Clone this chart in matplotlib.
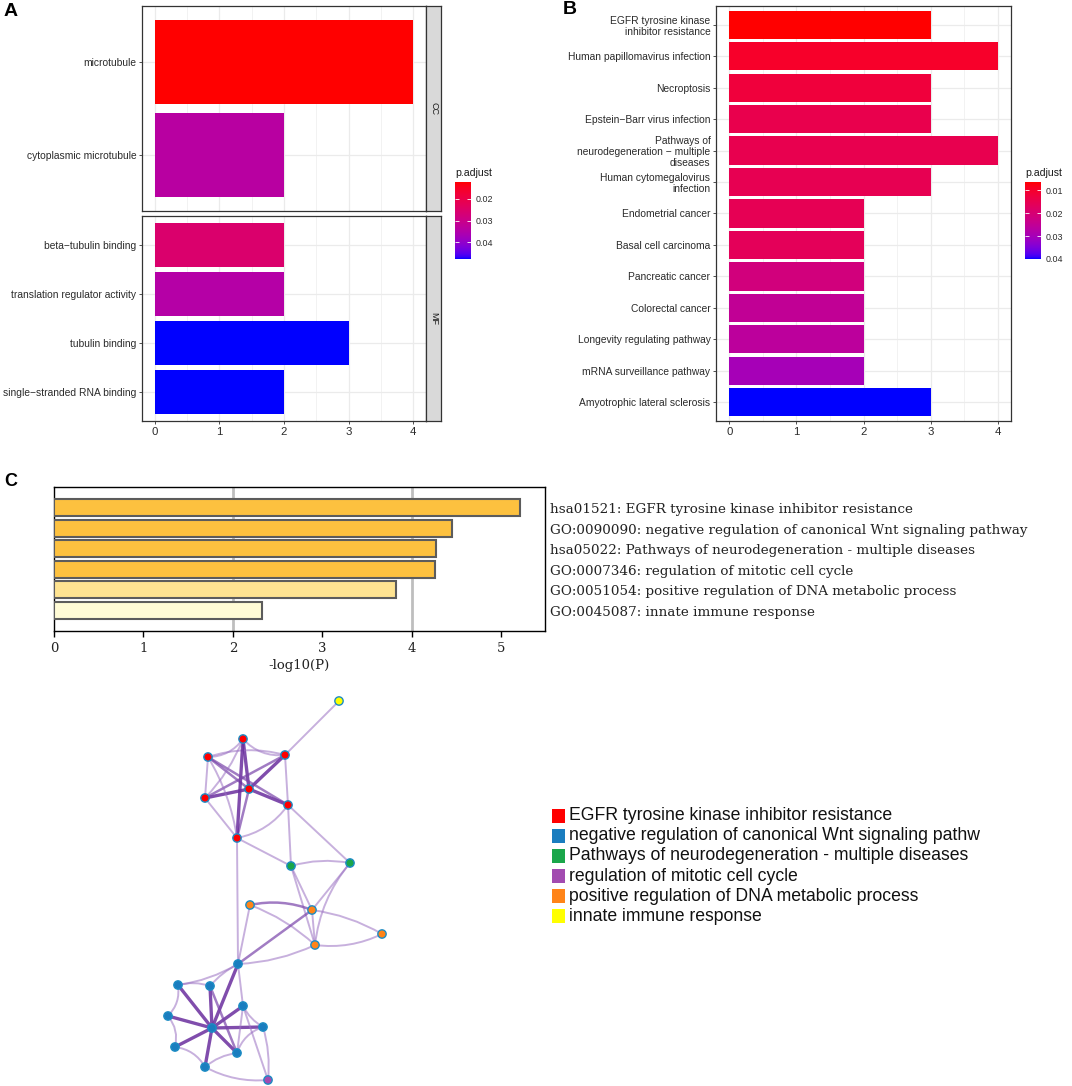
import numpy as np
import matplotlib
matplotlib.use("Agg")
import matplotlib.pyplot as plt
from matplotlib.colors import ListedColormap, Normalize
from matplotlib.cm import ScalarMappable
from matplotlib.patches import FancyArrowPatch, Rectangle

plt.rcParams['font.family'] = ['Liberation Sans', 'DejaVu Sans']

# ---------------- data ----------------
# Panel A (GO enrichment, faceted CC / MF), top-to-bottom order
a_cc_terms = ["microtubule", "cytoplasmic microtubule"]
a_cc_count = [4, 2]
a_cc_padj = [0.0122, 0.0338]
a_mf_terms = ["beta\u2212tubulin binding", "translation regulator activity",
              "tubulin binding", "single\u2212stranded RNA binding"]
a_mf_count = [2, 2, 3, 2]
a_mf_padj = [0.0255, 0.0345, 0.0478, 0.0478]
a_ticks = [0.02, 0.03, 0.04]

# Panel B (KEGG enrichment), top-to-bottom order
b_terms = ["EGFR tyrosine kinase\ninhibitor resistance",
           "Human papillomavirus infection",
           "Necroptosis",
           "Epstein\u2212Barr virus infection",
           "Pathways of\nneurodegeneration \u2212 multiple\ndiseases",
           "Human cytomegalovirus\ninfection",
           "Endometrial cancer",
           "Basal cell carcinoma",
           "Pancreatic cancer",
           "Colorectal cancer",
           "Longevity regulating pathway",
           "mRNA surveillance pathway",
           "Amyotrophic lateral sclerosis"]
b_count = [3, 4, 3, 3, 4, 3, 2, 2, 2, 2, 2, 2, 3]
b_padj = [0.0065, 0.0098, 0.0122, 0.0146, 0.0148, 0.0152, 0.0156, 0.0163,
          0.0215, 0.0250, 0.0260, 0.0300, 0.0400]
b_ticks = [0.01, 0.02, 0.03, 0.04]

# Panel C (Metascape bar chart)
c_terms = ["hsa01521: EGFR tyrosine kinase inhibitor resistance",
           "GO:0090090: negative regulation of canonical Wnt signaling pathway",
           "hsa05022: Pathways of neurodegeneration - multiple diseases",
           "GO:0007346: regulation of mitotic cell cycle",
           "GO:0051054: positive regulation of DNA metabolic process",
           "GO:0045087: innate immune response"]
c_logp = [5.21, 4.45, 4.27, 4.26, 3.82, 2.33]
c_colors = ["#FDC13F", "#FDC13F", "#FDC13F", "#FDC13F", "#FEE391", "#FFFBD6"]
c_xticks = [0, 1, 2, 3, 4, 5]

# Network (Metascape enrichment network): layout positions + cluster membership
net_groups = ["EGFR tyrosine kinase inhibitor resistance",
              "negative regulation of canonical Wnt signaling pathw",
              "Pathways of neurodegeneration - multiple diseases",
              "regulation of mitotic cell cycle",
              "positive regulation of DNA metabolic process",
              "innate immune response"]
net_group_colors = ["#FF0000", "#1A7DBF", "#1AA64A", "#A24BB0", "#FF8418", "#FFFF00"]
node_x = [339, 243, 208, 285, 249, 205, 288, 237, 291, 350, 250, 312, 315, 382,
          238, 178, 210, 243, 168, 263, 212, 175, 237, 205, 268]
node_y = [701, 739, 757, 755, 789, 798, 805, 838, 866, 863, 905, 910, 945, 934,
          964, 985, 986, 1006, 1016, 1027, 1028, 1047, 1053, 1067, 1080]
node_group = [5, 0, 0, 0, 0, 0, 0, 0, 2, 2, 4, 4, 4, 4,
              1, 1, 1, 1, 1, 1, 1, 1, 1, 1, 3]
edge_src = [0, 4, 4, 4, 4, 4, 4, 1, 1, 2, 2, 5, 7, 3, 1, 2, 5, 1, 2,
            6, 6, 7, 7,
            8, 8, 8, 9, 9, 10, 10, 10, 11, 12, 11, 11, 12,
            20, 20, 20, 20, 20, 20, 20, 20, 20,
            15, 15, 18, 21, 23, 22, 19, 17, 14, 14, 17, 19, 23, 17, 16]
edge_dst = [3, 1, 2, 3, 5, 6, 7, 2, 3, 5, 3, 7, 6, 6, 7, 6, 3, 5, 7,
            9, 8, 8, 14,
            9, 11, 12, 11, 12, 11, 14, 12, 12, 13, 13, 14, 14,
            14, 15, 16, 17, 18, 19, 21, 22, 23,
            16, 18, 21, 23, 22, 19, 17, 14, 16, 15, 24, 24, 24, 22, 22]
edge_w = [1, 3, 2, 3, 3, 3, 2, 1, 1, 1, 1, 1, 1, 1, 3, 2, 2, 1, 1,
          1, 1, 1, 1,
          1, 1, 1, 1, 1, 2, 1, 1, 1, 1, 1, 2, 1,
          3, 3, 3, 3, 3, 3, 3, 3, 3,
          1, 1, 1, 1, 1, 1, 1, 1, 1, 1, 1, 1, 1, 1, 2]
edge_rad = [0, 0, 0, 0, 0, 0, 0, -0.25, 0.25, 0, -0.15, 0, 0.2, 0, 0, 0, 0, -0.1, -0.1,
            0, 0, 0, 0,
            -0.12, 0, 0, 0, 0.15, -0.15, 0, -0.1, 0, 0.15, -0.1, 0, -0.1,
            0, 0, 0, 0, 0, 0, 0, 0, 0,
            -0.15, -0.25, -0.25, -0.25, -0.15, -0.25, -0.15, 0, 0.1, -0.1, 0, -0.1, 0.15, 0, 0]

# ---------------- helpers ----------------
W, H = 1072, 1086
fig = plt.figure(figsize=(W / 100, H / 100), dpi=100)


def px_axes(x0, y0, x1, y1, **kw):
    return fig.add_axes([x0 / W, 1 - y1 / H, (x1 - x0) / W, (y1 - y0) / H], **kw)


def ftext(x, y, s, **kw):
    return fig.text(x / W, 1 - y / H, s, **kw)


_M = np.array([[0.4124, 0.3576, 0.1805], [0.2126, 0.7152, 0.0722], [0.0193, 0.1192, 0.9505]])
_WP = np.array([0.95047, 1.0, 1.08883])


def _to_lab(rgb):
    c = np.asarray(rgb, float)
    lin = np.where(c <= 0.04045, c / 12.92, ((c + 0.055) / 1.055) ** 2.4)
    xyz = _M @ lin / _WP
    d = 6 / 29
    f = np.where(xyz > d ** 3, np.cbrt(xyz), xyz / (3 * d * d) + 4 / 29)
    return np.array([116 * f[1] - 16, 500 * (f[0] - f[1]), 200 * (f[1] - f[2])])


def _from_lab(lab):
    L, a, b = lab
    fy = (L + 16) / 116
    fs = np.array([fy + a / 500, fy, fy - b / 200])
    d = 6 / 29
    xyz = np.where(fs > d, fs ** 3, 3 * d * d * (fs - 4 / 29)) * _WP
    lin = np.clip(np.linalg.inv(_M) @ xyz, 0, 1)
    s = np.where(lin <= 0.0031308, 12.92 * lin, 1.055 * lin ** (1 / 2.4) - 0.055)
    return np.clip(s, 0, 1)


def lab_cmap(c0, c1, n=256):
    l0, l1 = _to_lab(c0), _to_lab(c1)
    return ListedColormap([_from_lab(l0 + (l1 - l0) * t) for t in np.linspace(0, 1, n)])


cmap = lab_cmap((1, 0, 0), (0, 0, 1))

TXT = "#2B2B2B"
GRID = "#EBEBEB"
BORDER = "#333333"
FS = 7.35


def style_gg(ax, terms, show_x):
    n = len(terms)
    ax.set_ylim(0.4, n + 0.6)
    ax.set_xlim(-0.2, 4.2)
    ax.set_yticks(np.arange(1, n + 1))
    ax.set_yticklabels(terms[::-1], fontsize=FS, color=TXT, linespacing=1.12)
    for lab in ax.get_yticklabels():
        lab.set_multialignment('right')
    ax.set_xticks([0, 1, 2, 3, 4])
    ax.set_xticks([0.5, 1.5, 2.5, 3.5], minor=True)
    ax.grid(True, which='major', color=GRID, lw=0.9, zorder=0)
    ax.grid(True, which='minor', axis='x', color=GRID, lw=0.45, zorder=0)
    ax.set_axisbelow(True)
    ax.tick_params(axis='both', which='major', length=2.5, width=0.6, color=BORDER, pad=1.5)
    ax.tick_params(axis='x', which='minor', length=0)
    if show_x:
        ax.set_xticklabels(["0", "1", "2", "3", "4"], fontsize=8.2, color=TXT)
    else:
        ax.tick_params(axis='x', which='major', length=0, labelbottom=False)
    for sp in ax.spines.values():
        sp.set_color(BORDER)
        sp.set_linewidth(0.9)


def strip(x0, y0, x1, y1, label):
    sax = px_axes(x0, y0, x1, y1)
    sax.set_facecolor("#D9D9D9")
    sax.set_xticks([])
    sax.set_yticks([])
    for sp in sax.spines.values():
        sp.set_color(BORDER)
        sp.set_linewidth(0.9)
    sax.text(0.5, 0.5, label, rotation=-90, ha='center', va='center',
             fontsize=6.5, color="#1A1A1A", transform=sax.transAxes)


def pcolorbar(x0, y0, x1, y1, norm, ticks):
    cax = px_axes(x0, y0, x1, y1)
    sm = ScalarMappable(norm=norm, cmap=cmap)
    cb = fig.colorbar(sm, cax=cax)
    cb.outline.set_visible(False)
    cax.invert_yaxis()
    cb.set_ticks(ticks)
    cb.set_ticklabels([f"{t:.2f}" for t in ticks])
    cax.yaxis.set_ticks_position('both')
    cax.tick_params(axis='y', direction='in', color='white', length=3, width=0.6,
                    labelsize=6.4, labelcolor=TXT, pad=3, labelleft=False, labelright=True)
    ftext(x0, y0 - 9, "p.adjust", fontsize=7.6, color="#1A1A1A", ha='left', va='center')


# ---------------- Panel A ----------------
normA = Normalize(vmin=min(a_cc_padj + a_mf_padj), vmax=max(a_cc_padj + a_mf_padj))
axA1 = px_axes(142, 6, 426, 211)
yc = np.arange(len(a_cc_terms), 0, -1)
axA1.barh(yc, a_cc_count, height=0.9, color=cmap(normA(a_cc_padj)), zorder=2)
style_gg(axA1, a_cc_terms, False)
strip(426, 6, 441, 211, "CC")

axA2 = px_axes(142, 216, 426, 421)
ym = np.arange(len(a_mf_terms), 0, -1)
axA2.barh(ym, a_mf_count, height=0.9, color=cmap(normA(a_mf_padj)), zorder=2)
style_gg(axA2, a_mf_terms, True)
strip(426, 216, 441, 421, "MF")

pcolorbar(455, 182, 471, 259, normA, a_ticks)

# ---------------- Panel B ----------------
normB = Normalize(vmin=min(b_padj), vmax=max(b_padj))
axB = px_axes(716, 6, 1011, 421)
yb = np.arange(len(b_terms), 0, -1)
axB.barh(yb, b_count, height=0.9, color=cmap(normB(b_padj)), zorder=2)
style_gg(axB, b_terms, True)
pcolorbar(1025, 182, 1041, 259, normB, b_ticks)

# ---------------- Panel C ----------------
axC = px_axes(54, 487, 545, 631)
yc6 = np.arange(len(c_terms), 0, -1)
axC.barh(yc6, c_logp, height=0.83, color=c_colors, edgecolor="#5C5C5C", linewidth=1.5, zorder=3)
axC.set_ylim(0, len(c_terms) + 1)
axC.set_xlim(0, 5.49)
for gx in [2, 4]:
    axC.axvline(gx, color="#BEBEBE", lw=2.0, zorder=1)
axC.set_yticks([])
axC.set_xticks(c_xticks)
axC.set_xticklabels([str(t) for t in c_xticks], family='DejaVu Serif', fontsize=9.5, color="#222222")
axC.tick_params(axis='x', length=4, width=1.0, color='black', pad=4)
for sp in axC.spines.values():
    sp.set_color('black')
    sp.set_linewidth(1.0)
axC.set_xlabel("-log10(P)", family='DejaVu Serif', fontsize=9.5, color="#222222", labelpad=3)
for yy, term in zip(yc6, c_terms):
    axC.text(1.0094, yy - 0.1, term, transform=axC.get_yaxis_transform(), ha='left', va='center',
             family='DejaVu Serif', fontsize=9.7, color="#222222", clip_on=False)

# ---------------- Network ----------------
axN = px_axes(130, 690, 410, 1086)
axN.set_xlim(130, 410)
axN.set_ylim(1086, 690)
axN.axis('off')
for s, d, w, r in zip(edge_src, edge_dst, edge_w, edge_rad):
    if w >= 3:
        col, lw, al = "#6A2E9E", 2.4, 0.85
    elif w == 2:
        col, lw, al = "#7A45AA", 1.8, 0.7
    else:
        col, lw, al = "#9A70C2", 1.4, 0.55
    p = FancyArrowPatch((node_x[s], node_y[s]), (node_x[d], node_y[d]),
                        connectionstyle=f"arc3,rad={r}", arrowstyle='-',
                        lw=lw, color=col, alpha=al, shrinkA=0, shrinkB=0, zorder=1)
    axN.add_patch(p)
node_fill = [net_group_colors[g] for g in node_group]
axN.scatter(node_x, node_y, s=36, c=node_fill, edgecolors="#1C8CC4", linewidths=1.0, zorder=3,
            clip_on=False)

# network legend
axL = px_axes(540, 790, 1040, 940)
axL.set_xlim(540, 1040)
axL.set_ylim(940, 790)
axL.axis('off')
leg_rows = np.arange(len(net_groups))
for i, (name, col) in enumerate(zip(net_groups, net_group_colors)):
    yy = 815.5 + 20.2 * leg_rows[i]
    axL.add_patch(Rectangle((551.5, yy - 7), 13.5, 14, facecolor=col, edgecolor='none'))
    axL.text(569, yy, name, fontsize=12.7, color="#111111", ha='left', va='center')

# panel labels
ftext(11, 12, "A", fontsize=14, fontweight='bold', ha='center', va='center')
ftext(570, 10, "B", fontsize=14, fontweight='bold', ha='center', va='center')
ftext(11, 481, "C", fontsize=13, fontweight='bold', ha='center', va='center')

fig.savefig("out.png", dpi=100)
